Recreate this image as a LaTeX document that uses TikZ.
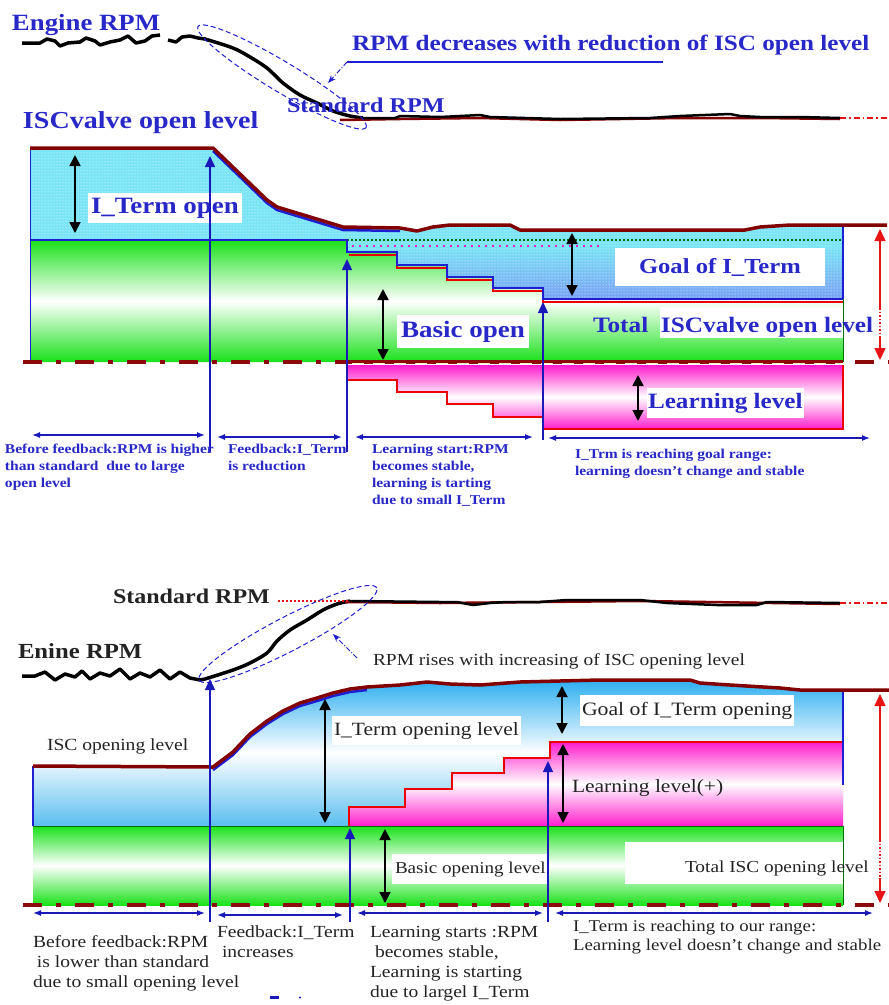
\documentclass[tikz,border=0pt]{standalone}
\usepackage{fontspec}
\setmainfont{Liberation Serif}[FakeStretch=1.15]
\usetikzlibrary{arrows.meta,patterns}
\definecolor{txtblue}{RGB}{40,40,200}
\definecolor{markblue}{RGB}{25,25,185}
\definecolor{maroonc}{RGB}{130,0,0}
\definecolor{lineblue}{RGB}{30,30,210}
\definecolor{cyanfill}{RGB}{120,228,245}
\definecolor{periw}{RGB}{120,160,245}
\definecolor{grn}{RGB}{25,225,25}
\definecolor{darkgrn}{RGB}{0,110,0}
\definecolor{mag}{RGB}{255,30,205}
\definecolor{basered}{RGB}{140,10,10}
\definecolor{cream}{RGB}{255,245,200}
\definecolor{redarrc}{RGB}{230,20,20}
\definecolor{stepred}{RGB}{235,0,0}
\definecolor{skyb}{RGB}{45,175,240}
\definecolor{skyb2}{RGB}{90,190,240}
\definecolor{darktxt}{RGB}{35,35,35}
\begin{document}
\begin{tikzpicture}[x=1pt,y=-1pt,
  every node/.style={inner sep=0pt,outer sep=0pt},
  bt/.style={text=txtblue,anchor=base west,font=\fontsize{#1}{#1}\selectfont\bfseries},
  kt/.style={text=darktxt,anchor=base west,font=\fontsize{#1}{#1}\selectfont},
  kbt/.style={text=darktxt,anchor=base west,font=\fontsize{#1}{#1}\selectfont\bfseries},
  smallblue/.style={text=txtblue,anchor=north west,align=left,font=\fontsize{13.5}{17}\selectfont\bfseries},
  smalldark/.style={text=darktxt,anchor=north west,align=left,font=\fontsize{17}{20}\selectfont},
  dblarr/.style={draw=black,line width=1.8pt,{Triangle[length=11pt,width=11pt]}-{Triangle[length=11pt,width=11pt]}},
  markarr/.style={draw=markblue,line width=1.4pt,-{Triangle[length=11pt,width=10pt]}},
  spanarr/.style={draw=markblue,line width=1.3pt,{Latex[length=8pt,width=6pt]}-{Latex[length=8pt,width=6pt]}},
  redtip/.style={draw=redarrc,line width=1.5pt,-{Triangle[length=12pt,width=11pt]}},
  reddot/.style={draw=redarrc,line width=1.5pt,dash pattern=on 1.5pt off 2pt},
  rpmline/.style={draw=black,line width=3.5pt,line join=round},
  outl/.style={draw=maroonc,line width=3.5pt,line join=round},
  basel/.style={draw=basered,line width=4.5pt,dash pattern=on 19pt off 14pt on 5pt off 14pt},
  ellip/.style={draw=lineblue,line width=1pt,dash pattern=on 5pt off 3pt},
  pointer/.style={draw=lineblue,line width=1pt,dash pattern=on 5pt off 2pt on 1pt off 2pt,-{Stealth[length=8pt,width=6pt]}},
  tailred/.style={draw=redarrc,line width=1.2pt,dash pattern=on 6pt off 3pt on 1.5pt off 3pt},
]
\useasboundingbox (0,0) rectangle (889,1005);
\fill[white] (0,0) rectangle (889,1005);

%================ TOP DIAGRAM ================
% I_Term (cyan dotted) region
\path[fill=cyanfill,postaction={pattern=dots,pattern color=white}]
  (30,148) -- (213,148) -- (267,200) -- (277,207) -- (320,220) -- (343,227) -- (400,228) -- (417,231) -- (433,227) -- (450,225) -- (510,225) -- (520,230) -- (745,230) -- (760,227) -- (790,225) -- (843,225)
  -- (843,299) -- (543,299) -- (543,288) -- (493,288) -- (493,277) -- (447,277) -- (447,265) -- (397,265) -- (397,252) -- (347,252) -- (347,240) -- (30,240) -- cycle;
\path[top color=cyanfill,bottom color=periw,postaction={pattern=dots,pattern color=white}]
  (347,246) -- (843,246) -- (843,299) -- (543,299) -- (543,288) -- (493,288) -- (493,277) -- (447,277) -- (447,265) -- (397,265) -- (397,252) -- (347,252) -- cycle;
% basic open (green)
\shade[top color=grn,bottom color=grn,middle color=white]
  (30,240) -- (347,240) -- (347,252) -- (397,252) -- (397,265) -- (447,265) -- (447,277) -- (493,277) -- (493,288) -- (543,288) -- (543,299) -- (843,299) -- (843,362) -- (30,362) -- cycle;
% learning level (magenta)
\shade[top color=mag,bottom color=mag,middle color=white]
  (347,365) -- (843,365) -- (843,429) -- (543,429) -- (543,417) -- (493,417) -- (493,404) -- (447,404) -- (447,392) -- (397,392) -- (397,380) -- (347,380) -- cycle;
\draw[stepred,line width=2pt] (347,380) -- (397,380) -- (397,392) -- (447,392) -- (447,404) -- (493,404) -- (493,417) -- (543,417) -- (543,429) -- (843,429) -- (843,365);

% step lines
\draw[stepred,line width=1.2pt] (349,255) -- (397,255) -- (397,268) -- (447,268) -- (447,280) -- (493,280) -- (493,291) -- (543,291) -- (543,302) -- (843,302);
\draw[darkgrn,line width=2.5pt,dash pattern=on 2pt off 2pt] (347,240) -- (843,240);
\draw[mag,line width=2pt,dash pattern=on 2pt off 5pt] (352,246) -- (600,246);
\draw[lineblue,line width=2.5pt] (30,240) -- (347,240) -- (347,252) -- (397,252) -- (397,265) -- (447,265) -- (447,277) -- (493,277) -- (493,288) -- (543,288) -- (543,299) -- (843,299) -- (843,226);
\draw[lineblue,line width=1pt] (30,148) -- (30,362);
\draw[darkgrn,line width=0.8pt] (843,299) -- (843,362);
% top outline
\draw[lineblue,line width=2.5pt,line join=round] (213,151) -- (267,203) -- (277,210) -- (320,223) -- (343,230) -- (400,231);
\draw[outl] (30,148) -- (213,148) -- (267,200) -- (277,207) -- (320,220) -- (343,227) -- (400,228) -- (417,231) -- (433,227) -- (450,225) -- (510,225) -- (520,230) -- (745,230) -- (760,227) -- (790,225) -- (887,225);

% baseline
\draw[basel] (23,362) -- (889,362);
\draw[basered,line width=4.5pt] (347,362) -- (843,362);
\draw[cream,line width=1.8pt,dash pattern=on 12pt off 9pt] (352,363.5) -- (843,363.5);

% Engine RPM line
\draw[rpmline] (22,43) -- (40,43) -- (47,39) -- (55,41) -- (60,46) -- (68,43) -- (80,42) -- (86,38) -- (95,41) -- (100,45) -- (110,42) -- (120,40) -- (128,36) -- (136,43) -- (145,41) -- (152,36) -- (160,35);
\draw[rpmline] (168,40) -- (176,42) -- (182,37) -- (190,36) -- (198,38) -- (205,39)
  -- plot[smooth] coordinates {(205,39) (233,48) (250,57) (267,68) (283,83) (300,95) (317,103) (333,111) (350,116) (363,118)};
\draw[maroonc,line width=2.5pt] (340,120) -- (400,119) -- (480,118) -- (560,120) -- (680,118) -- (760,118) -- (840,119);
\draw[draw=black,line width=2.5pt,line join=round] (363,118) -- (395,118) -- (400,116) -- (440,117) -- (480,115) -- (490,117) -- (560,119) -- (650,118) -- (680,116) -- (730,114) -- (740,116) -- (760,117) -- (800,117) -- (840,118);
\coordinate (tailA) at (840,118);
\coordinate (tailB) at (889,118);
\draw[tailred] (tailA) -- (tailB);

% ellipse + pointer
\draw[ellip,rotate around={-31:(282,77)}] (282,77) ellipse [x radius=98pt,y radius=15pt];
\coordinate (ptrA) at (347,62);
\coordinate (ptrB) at (663,62);
\coordinate (ptrT) at (328,83);
\draw[lineblue,line width=1.3pt] (ptrA) -- (ptrB);
\draw[pointer] (ptrA) -- (ptrT);

% labels top
\node[bt=23.3] (engrpm) at (12,30) {Engine RPM};
\node[bt=21.9] (rpmdec) at (352,50) {RPM decreases with reduction of ISC open level};
\node[bt=21] (stdrpm) at (287,112) {Standard RPM};
\node[bt=24.4] (iscv) at (23,128) {ISCvalve open level};
\node[bt=23.4,fill=white,inner xsep=3pt,inner ysep=5pt] (iterm) at (88,213) {I\_Term open};
\node[bt=23.5,fill=white,inner xsep=4pt,inner ysep=6pt] (basic) at (397,337) {Basic open};
\node[bt=21.4,fill=white,inner xsep=24pt,inner ysep=10pt] (goal) at (615,273) {Goal of I\_Term};
\fill[white] (660,307) rectangle (843,338);
\node[bt=22] (total) at (593,332) {Total\ \ ISCvalve open level};
\node[bt=21.9,fill=white,inner xsep=1pt,inner ysep=5pt] (learn) at (647,408) {Learning level};

% double arrows top
\coordinate (a1t) at (75,155); \coordinate (a1b) at (75,233);
\draw[dblarr] (a1t) -- (a1b);
\coordinate (a2t) at (383,289); \coordinate (a2b) at (383,360);
\draw[dblarr] (a2t) -- (a2b);
\coordinate (a3t) at (572,233); \coordinate (a3b) at (572,296);
\draw[dblarr] (a3t) -- (a3b);
\coordinate (a4t) at (638,375); \coordinate (a4b) at (638,421);
\draw[dblarr] (a4t) -- (a4b);

% red total arrow top
\coordinate (r1t) at (880,229); \coordinate (r1m1) at (880,308);
\coordinate (r1m2) at (880,336); \coordinate (r1b) at (880,360);
\draw[redtip] (r1m1) -- (r1t);
\draw[reddot] (r1m1) -- (r1m2);
\draw[redtip] (r1m2) -- (r1b);

% time markers top
\coordinate (m1b) at (210,452); \coordinate (m1t) at (210,156);
\coordinate (m2b) at (347,452); \coordinate (m2t) at (347,259);
\coordinate (m3b) at (543,440); \coordinate (m3t) at (543,302);
\draw[markarr] (m1b) -- (m1t);
\draw[markarr] (m2b) -- (m2t);
\draw[markarr] (m3b) -- (m3t);

% span arrows top
\coordinate (s1a) at (32,435); \coordinate (s1b) at (205,435);
\coordinate (s2a) at (217,437); \coordinate (s2b) at (342,437);
\coordinate (s3a) at (355,437); \coordinate (s3b) at (533,437);
\coordinate (s4a) at (548,438); \coordinate (s4b) at (870,438);
\draw[spanarr] (s1a) -- (s1b);
\draw[spanarr] (s2a) -- (s2b);
\draw[spanarr] (s3a) -- (s3b);
\draw[spanarr] (s4a) -- (s4b);

\node[smallblue] (t1) at (5,444) {Before feedback:RPM is higher\\than standard\ \ due to large\\open level};
\node[smallblue] (t2) at (228,444) {Feedback:I\_Term\\is reduction};
\node[smallblue] (t3) at (372,444) {Learning start:RPM\\becomes stable,\\learning is tarting\\due to small I\_Term};
\node[smallblue] (t4) at (575,449) {I\_Trm is reaching goal range:\\learning doesn't change and stable};

%================ BOTTOM DIAGRAM ================
% I_Term opening (sky blue) region
\shade[top color=skyb,bottom color=skyb2,middle color=white]
  (33,766) -- (213,767) -- (233,752) -- (250,734) -- (267,721) -- (283,711) -- (300,703) -- (317,698) -- (333,693) -- (350,689) -- (367,687) -- (400,685) -- (427,682) -- (450,684) -- (480,685) -- (520,682) -- (600,680) -- (690,680) -- (700,683) -- (730,685) -- (780,688) -- (800,690) -- (843,690) -- (843,826) -- (33,826) -- cycle;
% learning level (+)
\shade[top color=mag,bottom color=mag,middle color=white]
  (349,826) -- (349,807) -- (405,807) -- (405,789) -- (452,789) -- (452,773) -- (504,773) -- (504,758) -- (550,758) -- (550,742) -- (843,742) -- (843,826) -- cycle;
\draw[stepred,line width=2.5pt] (349,826) -- (349,807) -- (405,807) -- (405,789) -- (452,789) -- (452,773) -- (504,773) -- (504,758) -- (550,758) -- (550,742) -- (843,742);
% basic opening (green)
\shade[top color=grn,bottom color=grn,middle color=white] (33,826) rectangle (843,905);
\draw[darkgrn,line width=0.8pt] (33,826) -- (843,826) -- (843,905);
\draw[lineblue,line width=1.5pt] (33,766) -- (33,826);
\draw[lineblue,line width=1.5pt] (843,690) -- (843,785);
\fill[white] (625,842) rectangle (843,884);
% outline
\draw[lineblue,line width=2.5pt,line join=round] (213,770) -- (233,755) -- (250,737) -- (267,724) -- (283,714) -- (300,706) -- (317,701) -- (333,696) -- (350,692) -- (367,690);
\draw[outl] (33,766) -- (213,767) -- (233,752) -- (250,734) -- (267,721) -- (283,711) -- (300,703) -- (317,698) -- (333,693) -- (350,689) -- (367,687) -- (400,685) -- (427,682) -- (450,684) -- (480,685) -- (520,682) -- (600,680) -- (690,680) -- (700,683) -- (730,685) -- (780,688) -- (800,690) -- (889,690);
% baseline
\draw[basel] (23,905) -- (889,905);

% Enine RPM line
\draw[rpmline] (22,676) -- (35,676) -- (45,672) -- (55,680) -- (65,674) -- (75,677) -- (82,671) -- (90,679) -- (100,673) -- (110,676) -- (120,669) -- (130,679) -- (140,673) -- (150,677) -- (160,670) -- (170,679) -- (180,672) -- (190,678) -- (200,680) -- (205,679)
  -- plot[smooth] coordinates {(205,679) (233,670) (250,663) (267,653) (277,641) (290,630) (307,620) (323,610) (337,604) (350,601)};
\draw[maroonc,line width=2.5pt] (345,602) -- (440,603) -- (640,601) -- (840,604);
\draw[draw=black,line width=2.5pt,line join=round] (350,601) -- (440,602) -- (457,602) -- (473,605) -- (490,603) -- (507,602) -- (540,602) -- (567,600) -- (640,600) -- (667,603) -- (717,605) -- (757,605) -- (767,602) -- (840,603);
\coordinate (sdA) at (278,601); \coordinate (sdB) at (348,601);
\draw[redarrc,line width=1.2pt,dash pattern=on 2pt off 2pt] (sdA) -- (sdB);
\coordinate (tail2A) at (840,603); \coordinate (tail2B) at (889,603);
\draw[tailred] (tail2A) -- (tail2B);

% ellipse + pointer
\draw[ellip,rotate around={27.5:(288,634)}] (288,634) ellipse [x radius=100pt,y radius=17pt];
\coordinate (ptr2A) at (357,658); \coordinate (ptr2T) at (333,634);
\draw[pointer] (ptr2A) -- (ptr2T);

% labels bottom
\node[kbt=20.9] (stdrpm2) at (113,603) {Standard RPM};
\node[kbt=21.5] (enine) at (18,658) {Enine RPM};
\node[kt=16.9] (rises) at (373,665) {RPM rises with increasing of ISC opening level};
\node[kt=17] (iscop) at (47,750) {ISC opening level};
\node[kt=18.7,fill=white,inner xsep=2pt,inner ysep=6pt] (itop) at (332,735) {I\_Term opening level};
\node[kt=18.9,fill=white,inner xsep=2pt,inner ysep=7pt] (goal2) at (580,715) {Goal of I\_Term opening};
\node[kt=18.7] (learn2) at (572,792) {Learning level(+)};
\node[kt=16.6,fill=white,inner xsep=3pt,inner ysep=7pt] (basic2) at (392,873) {Basic opening level};
\node[kt=16.8] (total2) at (685,872) {Total ISC opening level};

% double arrows bottom
\coordinate (b1t) at (325,699); \coordinate (b1b) at (325,823);
\draw[dblarr] (b1t) -- (b1b);
\coordinate (b2t) at (562,686); \coordinate (b2b) at (562,734);
\draw[dblarr] (b2t) -- (b2b);
\coordinate (b3t) at (563,744); \coordinate (b3b) at (563,823);
\draw[dblarr] (b3t) -- (b3b);
\coordinate (b4t) at (385,829); \coordinate (b4b) at (385,903);
\draw[dblarr] (b4t) -- (b4b);

% red total arrow bottom
\coordinate (r2t) at (880,694); \coordinate (r2m1) at (880,840);
\coordinate (r2m2) at (880,878); \coordinate (r2b) at (880,903);
\draw[redtip] (r2m1) -- (r2t);
\draw[reddot] (r2m1) -- (r2m2);
\draw[redtip] (r2m2) -- (r2b);

% time markers bottom
\coordinate (n1b) at (210,922); \coordinate (n1t) at (210,679);
\coordinate (n2b) at (350,922); \coordinate (n2t) at (350,828);
\coordinate (n3b) at (548,922); \coordinate (n3t) at (548,761);
\draw[markarr] (n1b) -- (n1t);
\draw[markarr] (n2b) -- (n2t);
\draw[markarr] (n3b) -- (n3t);

% span arrows bottom
\coordinate (u1a) at (33,913); \coordinate (u1b) at (205,913);
\coordinate (u2a) at (217,915); \coordinate (u2b) at (343,915);
\coordinate (u3a) at (357,913); \coordinate (u3b) at (543,913);
\coordinate (u4a) at (555,913); \coordinate (u4b) at (873,913);
\draw[spanarr] (u1a) -- (u1b);
\draw[spanarr] (u2a) -- (u2b);
\draw[spanarr] (u3a) -- (u3b);
\draw[spanarr] (u4a) -- (u4b);

\node[smalldark] (v1) at (33,936) {Before feedback:RPM\\\hspace*{4pt}is lower than standard\\due to small opening level};
\node[smalldark] (v2) at (217,926) {Feedback:I\_Term\\\hspace*{5pt}increases};
\node[smalldark] (v3) at (370,926) {Learning starts :RPM\\\hspace*{5pt}becomes stable,\\Learning is starting\\due to largel I\_Term};
\node[smalldark,font=\fontsize{16.4}{19}\selectfont] (v4) at (573,920) {I\_Term is reaching to our range:\\Learning level doesn't change and stable};

% stray marks
\fill[markblue] (270,996) rectangle (279,999);
\fill[markblue] (300,997.5) circle (1.2pt);
\end{tikzpicture}
\end{document}
